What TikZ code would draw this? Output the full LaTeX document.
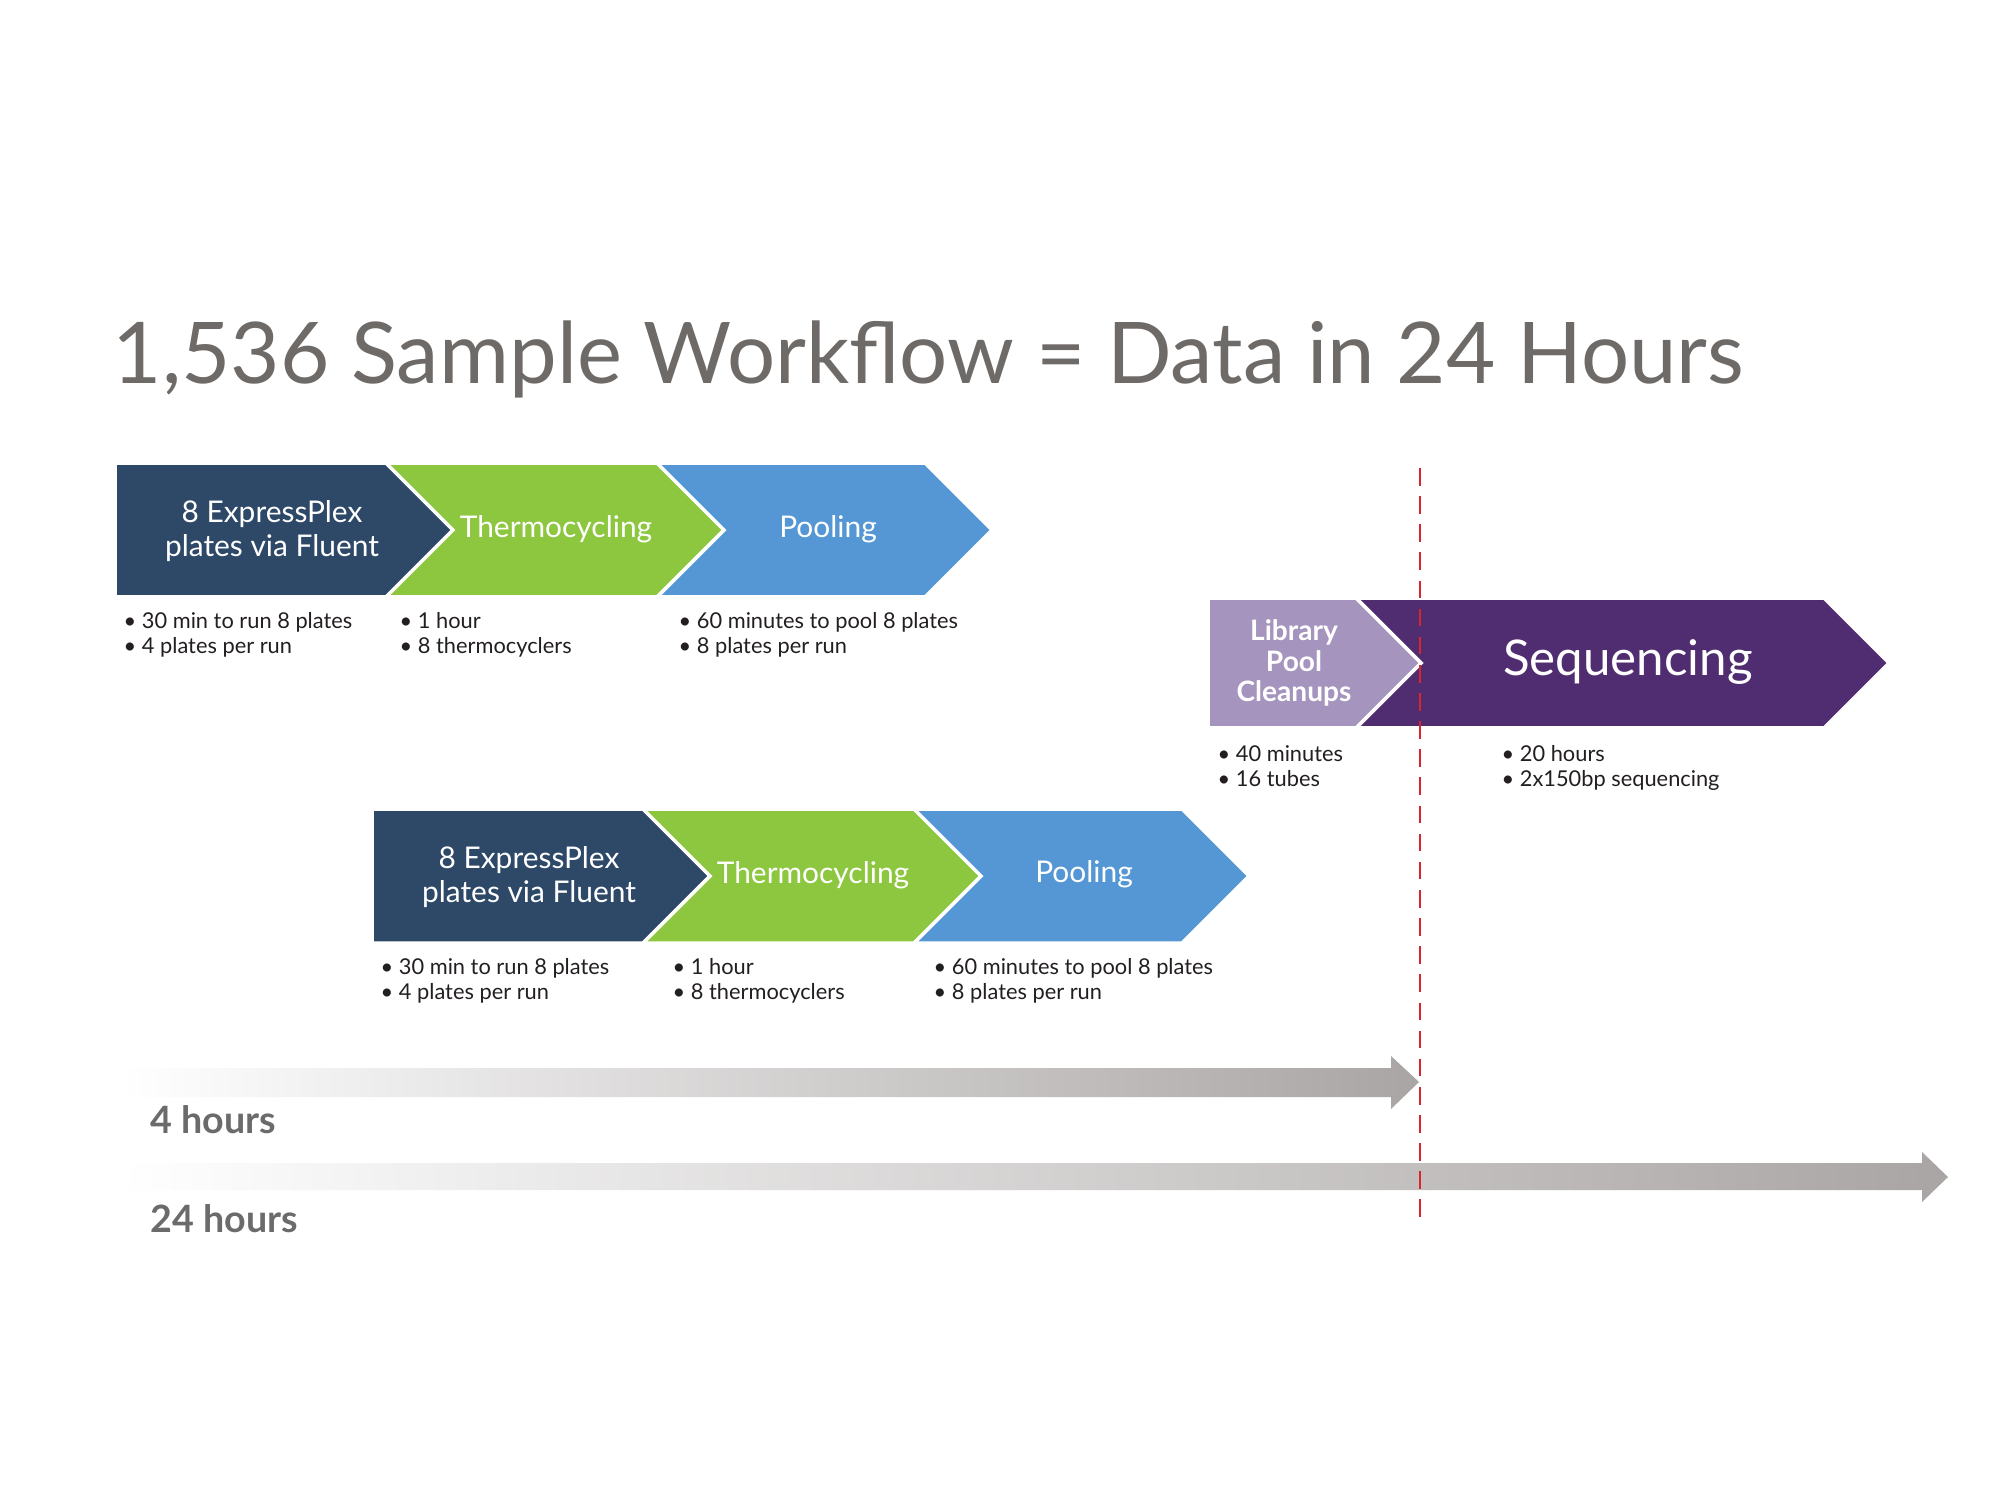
\documentclass[tikz,border=0pt]{standalone}
\usepackage{fontspec}
\setmainfont{Lato}

\begin{document}
\begin{tikzpicture}[x=0.01cm, y=-0.01cm,
    chev/.style={draw=white, line width=1pt},
    boxtext/.style={text=white, align=center, inner sep=0pt, font=\fontsize{8.5}{9.9}\selectfont},
    bullets/.style={anchor=north west, inner sep=0pt, align=left, text=notetext, font=\fontsize{6.2}{7.1}\selectfont},
    hours/.style={anchor=base west, inner sep=0pt, text=hourgray, font=\bfseries\fontsize{10.7}{12}\selectfont}]

    % Define colors
    \definecolor{navy}{HTML}{2E4868}
    \definecolor{leaf}{HTML}{8DC63F}
    \definecolor{sky}{HTML}{5497D4}
    \definecolor{lilac}{HTML}{A594BE}
    \definecolor{grape}{HTML}{502D70}
    \definecolor{notetext}{HTML}{231F20}
    \definecolor{titlegray}{HTML}{6E6A68}
    \definecolor{hourgray}{HTML}{6B6B6B}
    \definecolor{arrowgray}{HTML}{A9A5A4}
    \definecolor{cutred}{HTML}{D7262E}

    \fill[white] (0,0) rectangle (2000,1500);
    \useasboundingbox (0,0) rectangle (2000,1500);

    % Title
    \node[anchor=base west, inner sep=0pt, text=titlegray, font=\fontsize{24.2}{30}\selectfont] (title) at (112,383) {1,536 Sample Workflow = Data in 24 Hours};

    % First batch
    \filldraw[chev, fill=navy] (115,463) -- (386,463) -- (453,530) -- (386,597) -- (115,597) -- cycle;
    \filldraw[chev, fill=leaf] (386,463) -- (657,463) -- (724,530) -- (657,597) -- (386,597) -- (453,530) -- cycle;
    \filldraw[chev, fill=sky] (657,463) -- (925,463) -- (992,530) -- (925,597) -- (657,597) -- (724,530) -- cycle;
    \node[boxtext] (ex1) at (272,531) {8 ExpressPlex\\plates via Fluent};
    \node[boxtext] (therm1) at (556,529) {Thermocycling};
    \node[boxtext] (pool1) at (828,529) {Pooling};
    \node[bullets] (ex1notes) at (123,612) {• 30 min to run 8 plates\\• 4 plates per run};
    \node[bullets] (therm1notes) at (399,612) {• 1 hour\\• 8 thermocyclers};
    \node[bullets] (pool1notes) at (678,612) {• 60 minutes to pool 8 plates\\• 8 plates per run};

    % Second batch
    \filldraw[chev, fill=navy] (372,809) -- (643,809) -- (710,876) -- (643,943) -- (372,943) -- cycle;
    \filldraw[chev, fill=leaf] (643,809) -- (914,809) -- (981,876) -- (914,943) -- (643,943) -- (710,876) -- cycle;
    \filldraw[chev, fill=sky] (914,809) -- (1182,809) -- (1249,876) -- (1182,943) -- (914,943) -- (981,876) -- cycle;
    \node[boxtext] (ex2) at (529,877) {8 ExpressPlex\\plates via Fluent};
    \node[boxtext] (therm2) at (813,875) {Thermocycling};
    \node[boxtext] (pool2) at (1084,874) {Pooling};
    \node[bullets] (ex2notes) at (380,958) {• 30 min to run 8 plates\\• 4 plates per run};
    \node[bullets] (therm2notes) at (672,958) {• 1 hour\\• 8 thermocyclers};
    \node[bullets] (pool2notes) at (933,958) {• 60 minutes to pool 8 plates\\• 8 plates per run};

    % Cleanup and sequencing
    \filldraw[chev, fill=lilac] (1208,598) -- (1356,598) -- (1421,663) -- (1356,728) -- (1208,728) -- cycle;
    \filldraw[chev, fill=grape] (1356,598) -- (1824,598) -- (1889,663) -- (1824,728) -- (1356,728) -- (1421,663) -- cycle;
    \node[boxtext, font=\bfseries\fontsize{8}{8.7}\selectfont] (lib) at (1294,663) {Library\\Pool\\Cleanups};
    \node[boxtext, font=\fontsize{14}{16}\selectfont] (seq) at (1628,662) {Sequencing};
    \node[bullets] (libnotes) at (1217,745) {• 40 minutes\\• 16 tubes};
    \node[bullets] (seqnotes) at (1501,745) {• 20 hours\\• 2x150bp sequencing};

    % Time arrows
    \shade[left color=white, right color=arrowgray] (120,1068) -- (1391,1068) -- (1391,1056) -- (1419,1082) -- (1391,1109) -- (1391,1097) -- (120,1097) -- cycle;
    \shade[left color=white, right color=arrowgray] (120,1163) -- (1922,1163) -- (1922,1152) -- (1948,1177) -- (1922,1202) -- (1922,1190) -- (120,1190) -- cycle;
    \node[hours] (four) at (150,1133) {4 hours};
    \node[hours] (day) at (150,1232) {24 hours};

    % Cut-off line
    \coordinate (cuttop) at (1420,468);
    \coordinate (cutbot) at (1420,1222);
    \draw[cutred, line width=0.5pt, dash pattern=on 5pt off 3pt] (cuttop) -- (cutbot);

\end{tikzpicture}
\end{document}
